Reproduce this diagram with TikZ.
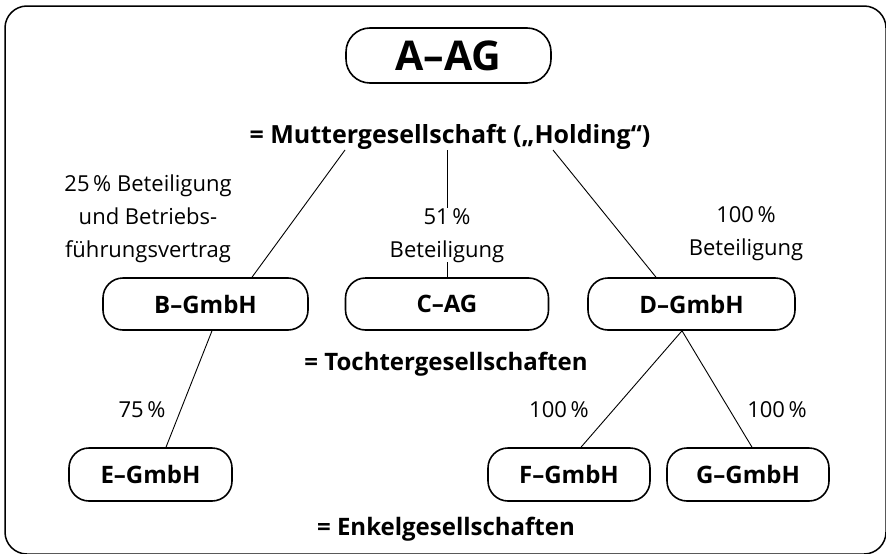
\documentclass[tikz,border=0pt]{standalone}
\usepackage{fontspec}
\setmainfont{Open Sans}
\begin{document}
\begin{tikzpicture}[x=1pt,y=-1pt,
  company/.style={draw, line width=1.6pt, rounded corners=20pt, minimum height=52pt, inner sep=0pt,
     font=\fontsize{24}{28}\selectfont\bfseries},
  bigco/.style={company, rounded corners=24pt, minimum height=55pt, font=\fontsize{41}{46}\selectfont\bfseries},
  heading/.style={font=\fontsize{24}{28}\selectfont\bfseries, anchor=base, inner sep=0pt},
  lbl/.style={font=\fontsize{22}{33}\selectfont, align=center, inner sep=1pt},
  link/.style={line width=0.9pt}]
\useasboundingbox (0,0) rectangle (886,554);
\draw[line width=1.5pt, rounded corners=22pt] (5,6) rectangle (886,554);

% companies
\node[bigco, minimum width=205pt] (A) at (448.5,55.5) {A--AG};
\node[heading, font=\fontsize{25}{28}\selectfont\bfseries] (mutter) at (450,143) {= Muttergesellschaft („Holding“)};
\node[company, minimum width=205pt] (B) at (205.5,304) {B--GmbH};
\node[company, minimum width=203pt] (C) at (447,304) {C--AG};
\node[company, minimum width=207pt] (D) at (691.5,304) {D--GmbH};
\node[heading] (tochter) at (446,370) {= Tochtergesellschaften};
\node[company, minimum width=163pt, minimum height=53pt] (E) at (150.5,474.5) {E--GmbH};
\node[company, minimum width=162pt, minimum height=53pt] (F) at (569,474.5) {F--GmbH};
\node[company, minimum width=162pt, minimum height=53pt] (G) at (748,474.5) {G--GmbH};
\node[heading] (enkel) at (446,535) {= Enkelgesellschaften};

% connector start points
\coordinate (sB) at (345,150);
\coordinate (sC) at (447,150);
\coordinate (sD) at (553,150);

% connectors
\draw[link] (sB) -- ([xshift=46.5pt]B.north);
\draw[link] (sC) -- (C.north);
\draw[link] (sD) -- ([xshift=-35.5pt]D.north);
\draw[link] ([xshift=6.5pt]B.south) -- ([xshift=15.5pt]E.north);
\draw[link] ([xshift=-9.5pt]D.south) -- ([xshift=12pt]F.north);
\draw[link] ([xshift=-9.5pt]D.south) -- ([xshift=4pt]G.north);

% labels (base anchor = baseline of last line)
\node[lbl, anchor=base] (lB) at (148,257) {25\,\% Beteiligung\\und Betriebs-\\führungsvertrag};
\node[lbl, anchor=base, fill=white, inner sep=0pt] (lC) at (447,257) {51\,\%\\Beteiligung};
\node[lbl, anchor=base] (lD) at (746,255) {100\,\%\\Beteiligung};
\node[lbl, anchor=base] (lE) at (142,417) {75\,\%};
\node[lbl, anchor=base] (lF) at (559,417) {100\,\%};
\node[lbl, anchor=base] (lG) at (777,417) {100\,\%};
\end{tikzpicture}
\end{document}
